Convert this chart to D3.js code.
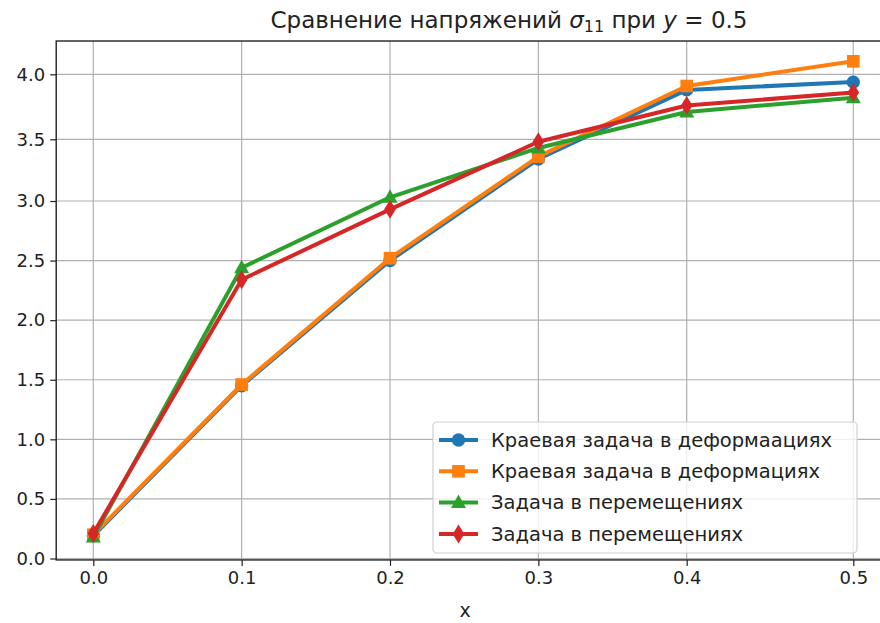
<!DOCTYPE html>
<html>
<head>
<meta charset="utf-8">
<script src="https://cdn.jsdelivr.net/npm/d3@7"></script>
<style>
  body { margin: 0; background: #fff; }
  svg { display: block; font-family: "DejaVu Sans", sans-serif; }
</style>
</head>
<body>
<svg id="chart" width="880" height="623"></svg>
<script>
const xValues = [0.0, 0.1, 0.2, 0.3, 0.4, 0.5];
const deformBlue = [0.19, 1.45, 2.50, 3.34, 3.88, 3.94];
const deformOrange = [0.20, 1.46, 2.52, 3.36, 3.91, 4.10];
const displGreen = [0.18, 2.44, 3.03, 3.43, 3.71, 3.82];
const displRed = [0.21, 2.34, 2.93, 3.48, 3.76, 3.86];
const seriesNames = [
    "Краевая задача в деформаациях",
    "Краевая задача в деформациях",
    "Задача в перемещениях",
    "Задача в перемещениях"
];
const xTicks = [0.0, 0.1, 0.2, 0.3, 0.4, 0.5];
const yTicks = [0.0, 0.5, 1.0, 1.5, 2.0, 2.5, 3.0, 3.5, 4.0];

const series = [
    { name: seriesNames[0], values: deformBlue, color: "#1f77b4", marker: "circle" },
    { name: seriesNames[1], values: deformOrange, color: "#ff7f0e", marker: "square" },
    { name: seriesNames[2], values: displGreen, color: "#2ca02c", marker: "triangle" },
    { name: seriesNames[3], values: displRed, color: "#d62728", marker: "diamond" }
];

const svg = d3.select("#chart");
const width = 880, height = 623;

// the picture is slightly non-uniform, so the scales are piecewise
const xScale = d3.scaleLinear()
    .domain([0, 0.4, 0.5])
    .range([93.3, 686.7, 853.3]);
const yScale = d3.scaleLinear()
    .domain([0, 3, 3.5, 4])
    .range([558.5, 201, 139.3, 74.3]);

const xMin = -0.025, xMax = 0.525;
const yMin = -0.012, yMax = 4.256;
const plotLeft = xScale(xMin), plotRight = xScale(xMax);
const plotTop = yScale(yMax), plotBottom = yScale(yMin);

svg.append("rect").attr("width", width).attr("height", height).attr("fill", "#fff");

// grid
const grid = svg.append("g").attr("stroke", "#b0b0b0").attr("stroke-width", 1.2);
grid.selectAll(".gx").data(xTicks).enter().append("line")
    .attr("x1", d => xScale(d)).attr("x2", d => xScale(d))
    .attr("y1", plotTop).attr("y2", plotBottom);
grid.selectAll(".gy").data(yTicks).enter().append("line")
    .attr("x1", plotLeft).attr("x2", plotRight)
    .attr("y1", d => yScale(d)).attr("y2", d => yScale(d));

// axes
const xAxis = d3.axisBottom(xScale).tickValues(xTicks).tickFormat(d3.format(".1f"))
    .tickSizeInner(6).tickSizeOuter(0).tickPadding(5);
const yAxis = d3.axisLeft(yScale).tickValues(yTicks).tickFormat(d3.format(".1f"))
    .tickSizeInner(6).tickSizeOuter(0).tickPadding(5);

const xAxisG = svg.append("g").attr("transform", `translate(0,${plotBottom})`).call(xAxis);
xAxisG.select(".domain").remove();
xAxisG.selectAll("text").attr("font-size", 18).attr("fill", "#222").attr("font-family", "DejaVu Sans");
xAxisG.selectAll("line").attr("stroke", "#222").attr("stroke-width", 1.2);

const yAxisG = svg.append("g").attr("transform", `translate(${plotLeft},0)`).call(yAxis);
yAxisG.select(".domain").remove();
yAxisG.selectAll("text").attr("font-size", 18).attr("fill", "#222").attr("font-family", "DejaVu Sans");
yAxisG.selectAll("line").attr("stroke", "#222").attr("stroke-width", 1.2);

// lines and markers
const line = d3.line().x((d, i) => xScale(xValues[i])).y(d => yScale(d));

const markerPath = (type) => {
    if (type === "circle") return d3.symbol(d3.symbolCircle, 140)();
    if (type === "square") return d3.symbol(d3.symbolSquare, 160)();
    if (type === "triangle") return "M0,-8L7.5,5.5L-7.5,5.5Z";
    return "M0,-9.5L5.8,0L0,9.5L-5.8,0Z";
};

series.forEach(s => {
    const g = svg.append("g");
    g.append("path").datum(s.values)
        .attr("d", line)
        .attr("fill", "none")
        .attr("stroke", s.color)
        .attr("stroke-width", 4)
        .attr("stroke-linejoin", "round");
    g.selectAll("path.mk").data(s.values).enter().append("path")
        .attr("class", "mk")
        .attr("d", markerPath(s.marker))
        .attr("transform", (d, i) => `translate(${xScale(xValues[i])},${yScale(d)})`)
        .attr("fill", s.color);
});

// spines (right one falls outside the picture)
const spines = svg.append("g").attr("stroke", "#222").attr("stroke-width", 1.4).attr("fill", "none");
spines.append("rect").attr("x", plotLeft).attr("y", plotTop).attr("width", plotRight - plotLeft).attr("height", plotBottom - plotTop);

// legend
const legend = svg.append("g").attr("transform", "translate(433,422)");
legend.append("rect")
    .attr("width", 424).attr("height", 131)
    .attr("rx", 4)
    .attr("fill", "#fff").attr("fill-opacity", 0.8)
    .attr("stroke", "#d0d0d0").attr("stroke-width", 1.2);

series.forEach((s, i) => {
    const row = legend.append("g").attr("transform", `translate(0,${18 + i * 31.3})`);
    row.append("line")
        .attr("x1", 6).attr("x2", 45)
        .attr("stroke", s.color).attr("stroke-width", 4);
    row.append("path")
        .attr("d", markerPath(s.marker))
        .attr("transform", "translate(25.5,0)")
        .attr("fill", s.color);
    row.append("text")
        .attr("x", 58).attr("dy", "0.35em")
        .attr("font-size", 19.5).attr("fill", "#222")
        .text(s.name);
});

// title
const title = svg.append("text")
    .attr("x", 509).attr("y", 28)
    .attr("text-anchor", "middle")
    .attr("font-size", 23).attr("fill", "#222");
title.append("tspan").text("Сравнение напряжений ");
title.append("tspan").attr("font-style", "italic").text("σ");
title.append("tspan").attr("font-size", 16).attr("dy", 4).text("11");
title.append("tspan").attr("dy", -4).text(" при ");
title.append("tspan").attr("font-style", "italic").text("y");
title.append("tspan").text(" = 0.5");

// x label
svg.append("text")
    .attr("x", 465).attr("y", 617)
    .attr("text-anchor", "middle")
    .attr("font-size", 19).attr("fill", "#222")
    .text("x");
</script>
</body>
</html>
